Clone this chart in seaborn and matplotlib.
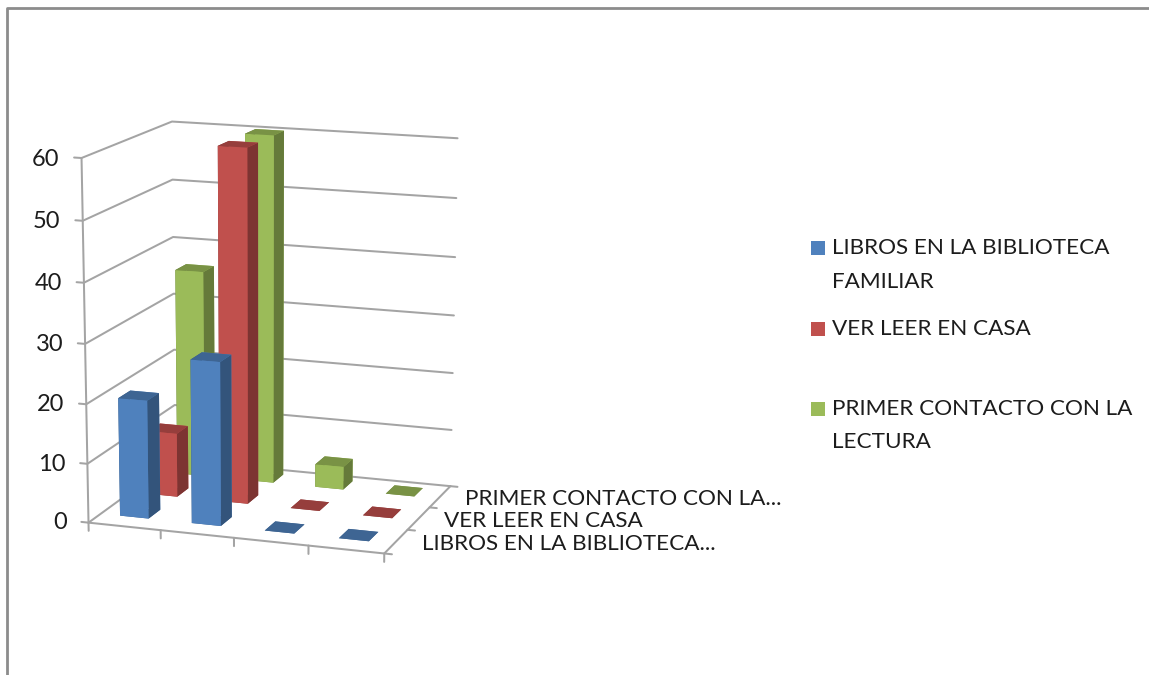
import numpy as np
import matplotlib.pyplot as plt
import seaborn as sns
from matplotlib.lines import Line2D
from matplotlib.patches import Rectangle
from mpl_toolkits.mplot3d import proj3d

# DATA
series_names = ["LIBROS EN LA BIBLIOTECA FAMILIAR", "VER LEER EN CASA", "PRIMER CONTACTO CON LA LECTURA"]
depth_labels = ["LIBROS EN LA BIBLIOTECA...", "VER LEER EN CASA", "PRIMER CONTACTO CON LA..."]
libros = [20, 27.5, 0, 0]
ver_leer = [11, 60, 0, 0]
primer = [36, 60, 4, 0]
z_ticks = [0, 10, 20, 30, 40, 50, 60]
bar_colors = ["#4F81BD", "#C0504D", "#9BBB59"]

W, H = 1149, 675

sns.set_theme(style="white")
plt.rcParams["font.family"] = ["Lato", "DejaVu Sans"]
palette = sns.color_palette(bar_colors)
grid_color = "#a4a4a4"
text_color = "#1c1c1c"

fig = plt.figure(figsize=(W / 100, H / 100), dpi=100, facecolor="white")
ax = fig.add_axes([0, 0, H / W, 1], projection="3d")
ax.set_axis_off()
ax.computed_zorder = False

# CAMERA: fit the old Excel perspective from the corners of the plot box
world = np.array([[0, 0, 0], [0, 0, 60], [0, 3, 60], [4, 3, 60], [4, 3, 0], [4, 0, 0],
                  [0, 3, 0], [1, 0, 0], [2, 0, 0], [0, 0, 30], [4, 3, 30]], float)
pixel = np.array([[89, 519], [81, 159], [172, 121], [458, 139], [450, 483], [384, 555],
                  [175, 463], [161, 530], [234, 541], [85, 342], [454, 315]], float)
rows = []
for (x, y, z), (u, v) in zip(world, pixel):
    rows.append([x, y, z, 1, 0, 0, 0, 0, -u * x, -u * y, -u * z, -u])
    rows.append([0, 0, 0, 0, x, y, z, 1, -v * x, -v * y, -v * z, -v])
P = np.linalg.svd(np.array(rows))[2][-1].reshape(3, 4)
P = P / (P[2] @ [2, 1.5, 30, 1])

x0, x1 = ax.viewLim.intervalx
y0, y1 = ax.viewLim.intervaly
to_view = np.array([[(x1 - x0) / H, 0, x0],
                    [0, -(y1 - y0) / H, y1],
                    [0, 0, 1]])
P = to_view @ P
# depth has to stay negative or mplot3d clips the lines
M = np.array([P[0], P[1], np.array([-0.1, 1, -0.01, 0]) - 10 * P[2], P[2]])
ax.get_proj = lambda: M


def label_3d(x, y, z, text, **kwargs):
    u, v, _ = proj3d.proj_transform(x, y, z, M)
    ax.text2D(u, v, text, transform=ax.transData, va="center", color=text_color, **kwargs)


# GRID
lines = {"color": grid_color, "lw": 1.45, "zorder": 1}
for z in z_ticks:
    ax.plot([-0.1, 0, 0, 4], [0, 0, 3, 3], [z, z, z, z], **lines)
ax.plot([0, 0], [0, 0], [0, 60], **lines)
ax.plot([0, 4, 4], [0, 0, 3], [0, 0, 0], **lines)
for i in range(5):
    ax.plot([i, i], [0, 0], [0, -1.4], **lines)
for j in range(4):
    ax.plot([4, 4.1], [j, j], [0, 0], **lines)

# BARS (back row first)
for row, values in reversed(list(enumerate([libros, ver_leer, primer]))):
    c = np.array(palette[row])
    faces = [c * 0.78, c * 0.78, c, c, c * 0.65, c * 0.65]
    faces = [tuple(f) for f in faces]
    for col, val in enumerate(values):
        ax.bar3d(col + 0.27, row + 0.4, 0, 0.4, 0.4, val, color=faces, shade=False,
                 edgecolor="none", zorder=2 + row * -0.1 + 1)

# LABELS
for z in z_ticks:
    label_3d(-0.3, 0, z - 0.4, str(z), ha="right", fontsize=17)
for j, name in enumerate(depth_labels):
    label_3d(4.34, j + 0.5, 0, name, ha="left", fontsize=16.2)

# LEGEND
legend_rows = [(248, ["LIBROS EN LA BIBLIOTECA", "FAMILIAR"]),
               (329, ["VER LEER EN CASA"]),
               (409, ["PRIMER CONTACTO CON LA", "LECTURA"])]
for k, (py, parts) in enumerate(legend_rows):
    fig.add_artist(Rectangle((811 / W, 1 - (py + 7) / H), 14 / W, 14 / H, transform=fig.transFigure,
                             facecolor=palette[k], edgecolor="none"))
    for n, part in enumerate(parts):
        fig.text(832 / W, 1 - (py + n * 33.5) / H, part, ha="left", va="center",
                 fontsize=16.2, color=text_color)

# FRAME
frame = {"color": "#8c8c8c", "lw": 2.0, "transform": fig.transFigure}
fig.add_artist(Line2D([7.3 / W, 7.3 / W, 1], [0, 1 - 8 / H, 1 - 8 / H], **frame))

plt.savefig("out.png", dpi=100)
